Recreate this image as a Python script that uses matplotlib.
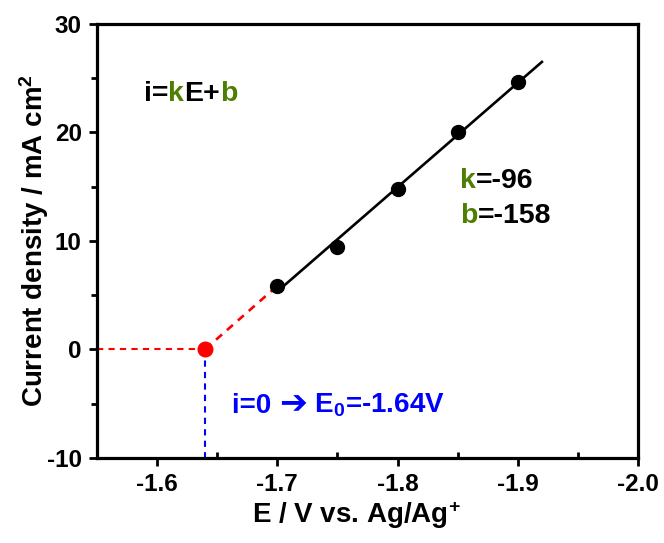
import numpy as np
import matplotlib.pyplot as plt
from matplotlib.ticker import MultipleLocator

plt.rcParams['font.family'] = ['Liberation Sans', 'DejaVu Sans']
plt.rcParams['font.weight'] = 'bold'
plt.rcParams['axes.unicode_minus'] = False
plt.rcParams['mathtext.fontset'] = 'custom'
plt.rcParams['mathtext.rm'] = 'Liberation Sans:bold'
plt.rcParams['mathtext.bf'] = 'Liberation Sans:bold'
plt.rcParams['mathtext.it'] = 'Liberation Sans:bold'

# data
potential = [-1.70, -1.75, -1.80, -1.85, -1.90]
current = [5.85, 9.45, 14.8, 20.05, 24.6]
e0 = -1.64
fit_end = -1.92
green = '#4f7f00'

k, b = np.polyfit(potential, current, 1)

fig = plt.figure(figsize=(6.64, 5.43), dpi=100)
ax = fig.add_axes([0.146, 0.157, 0.815, 0.799])

# fitted line
xfit = np.array([potential[0], fit_end])
ax.plot(xfit, k * xfit + b, color='black', lw=1.9, zorder=2)
# extrapolation to i=0
ax.plot([e0, potential[0]], [0, current[0]], color='red', lw=1.9,
        ls=(0, (3, 2.5)), zorder=2)
ax.plot([-1.55, e0], [0, 0], color='red', lw=1.5, ls=(0, (3, 2.5)), zorder=2)
ax.plot([e0, e0], [0, -10], color='blue', lw=1.5, ls=(0, (3, 2.5)), zorder=2)

ax.plot(potential, current, 'o', color='black', ms=10, zorder=3)
ax.plot([e0], [0], 'o', color='red', ms=10.5, zorder=3)

ax.set_xlim(-1.55, -2.0)
ax.set_ylim(-10, 30)
ax.xaxis.set_major_locator(MultipleLocator(0.1))
ax.xaxis.set_minor_locator(MultipleLocator(0.05))
ax.yaxis.set_major_locator(MultipleLocator(10))
ax.yaxis.set_minor_locator(MultipleLocator(5))
ax.tick_params(which='major', direction='out', length=6, width=2,
               labelsize=17.5, pad=5)
ax.tick_params(axis='x', which='minor', direction='in', length=4, width=2)
ax.tick_params(axis='y', which='minor', direction='out', length=4, width=2)
for s in ax.spines.values():
    s.set_linewidth(2.3)

ax.set_xlabel('E / V vs. Ag/Ag$^{+}$', fontsize=20, fontweight='bold',
              labelpad=5)
ax.xaxis.set_label_coords(0.48, -0.095)
ax.set_ylabel('Current density / mA cm$^{2}$', fontsize=20,
              fontweight='bold', labelpad=-3)


def colored_text(x, y, parts, size):
    # draw text pieces one after another on the same baseline
    fig.canvas.draw()
    r = fig.canvas.get_renderer()
    t = ax.text(x, y, parts[0][0], color=parts[0][1], fontsize=size,
                fontweight='bold', va='baseline')
    for s, c in parts[1:]:
        t.draw(r)
        t = ax.annotate(s, xy=(1, 0), xycoords=t, xytext=(0, 0),
                        textcoords='offset points', color=c, fontsize=size,
                        fontweight='bold', va='bottom')


colored_text(-1.589, 22.9, [('i=', 'black'), ('k', green), ('E+', 'black'),
                            ('b', green)], 20.5)
colored_text(-1.852, 14.9, [('k', green), ('=-96', 'black')], 20.5)
colored_text(-1.852, 11.6, [('b', green), ('=-158', 'black')], 20.5)

# blue note with a heavy arrow (DejaVu Sans has the glyph)
fig.canvas.draw()
r = fig.canvas.get_renderer()
t1 = ax.text(-1.6625, -5.85, 'i=0 ', color='blue', fontsize=20,
             fontweight='bold', va='baseline')
t1.draw(r)
t2 = ax.annotate('\u2794', xy=(1, 0), xycoords=t1, xytext=(0, -1),
                 textcoords='offset points', color='blue', fontsize=24,
                 family='DejaVu Sans', va='bottom')
t2.draw(r)
ax.annotate(' E$_0$=-1.64V', xy=(1, 0), xycoords=t2, xytext=(0, 1),
            textcoords='offset points', color='blue', fontsize=20,
            fontweight='bold', va='bottom')

fig.savefig('out.png', dpi=100)
